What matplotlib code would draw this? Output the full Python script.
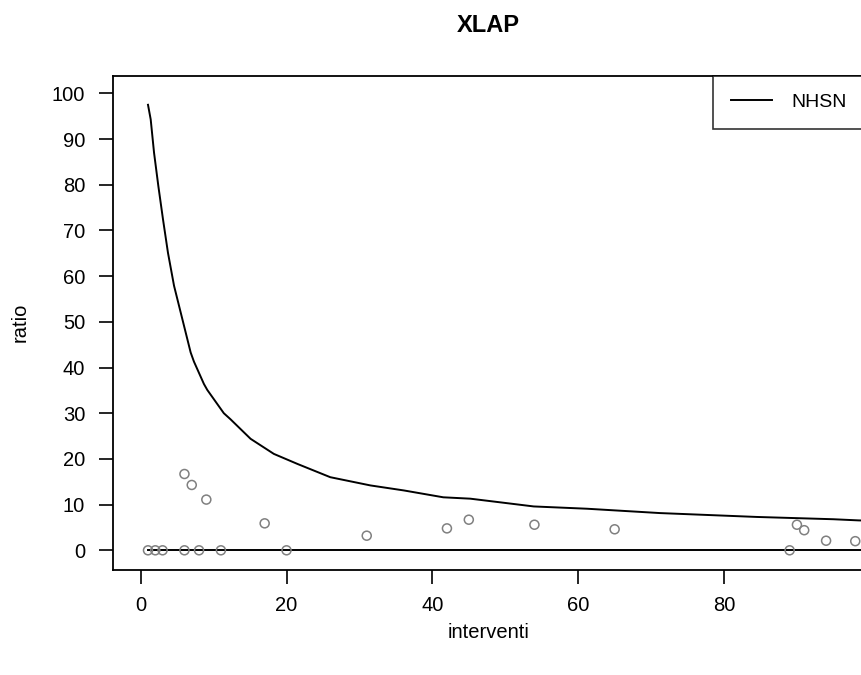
import matplotlib
matplotlib.use("Agg")
import matplotlib.pyplot as plt
from matplotlib.lines import Line2D

plt.rcParams["font.family"] = ["Liberation Sans", "DejaVu Sans"]

# --------------------------------------------------------------------
# Data
# --------------------------------------------------------------------
# NHSN threshold curve
nhsn_x = [1, 1.37, 1.83, 2.42, 3.06, 3.74, 4.57, 5.71, 6.85, 7.3, 8.67, 9.13,
          11.4, 12.3, 15.07, 18.26, 21.5, 26.0, 31.5, 36.1, 41.5, 45.2, 49.3,
          53.9, 61.2, 71.2, 84.5, 95.0, 98.4, 99.5]
nhsn_y = [97.5, 94.3, 87.0, 79.7, 72.4, 65.1, 57.9, 50.6, 43.3, 41.3, 36.4, 35.1,
          30.0, 28.7, 24.4, 21.1, 18.9, 16.0, 14.2, 13.1, 11.6, 11.3, 10.5,
          9.6, 9.1, 8.15, 7.3, 6.8, 6.55, 6.5]

# lower reference line
zero_x = [1, 100]
zero_y = [0, 0]

# observed ratios per number of interventions
interventi = [1, 2, 3, 6, 6, 7, 8, 9, 11, 17, 20, 31, 42, 45, 54, 65, 89, 90, 91, 94, 98]
ratio = [0, 0, 0, 16.7, 0, 14.3, 0, 11.1, 0, 5.9, 0, 3.2, 4.8, 6.7, 5.6, 4.6,
         0, 5.6, 4.4, 2.1, 2.0]

x_ticks = [0, 20, 40, 60, 80]
y_ticks = [0, 10, 20, 30, 40, 50, 60, 70, 80, 90, 100]

# --------------------------------------------------------------------
# Plot
# --------------------------------------------------------------------
fig = plt.figure(figsize=(8.61, 6.75), dpi=100)
ax = fig.add_axes([113 / 861, 1 - 569.5 / 675, (864 - 113) / 861, (569.5 - 76) / 675])

ax.plot(nhsn_x, nhsn_y, color="black", lw=1.4)
ax.plot(zero_x, zero_y, color="black", lw=1.4)
ax.scatter(interventi, ratio, s=42, facecolors="none", edgecolors="#808080",
           linewidths=1.1, zorder=3)

ax.set_xlim(-3.8, 99.2)
ax.set_ylim(-4.2, 103.8)
ax.set_xticks(x_ticks)
ax.set_yticks(y_ticks)

ax.tick_params(direction="out", length=10, width=1.2, labelsize=14.5, pad=9, colors="black")
ax.tick_params(axis="y", pad=10)
for sp in ax.spines.values():
    sp.set_linewidth(1.3)

ax.set_xlabel("interventi", fontsize=14.5, labelpad=6)
ax.set_ylabel("ratio", fontsize=14.5, labelpad=16)
ax.set_title("XLAP", fontsize=17, fontweight="bold", pad=32)

handle = Line2D([], [], color="black", lw=1.4)
leg = ax.legend([handle], ["NHSN"], loc="upper right", fontsize=14, frameon=True,
                fancybox=False, borderaxespad=0, handlelength=2.1, handletextpad=1.0,
                borderpad=0.9, edgecolor="black")
leg.get_frame().set_linewidth(1.2)

fig.savefig("out.png", dpi=100)
